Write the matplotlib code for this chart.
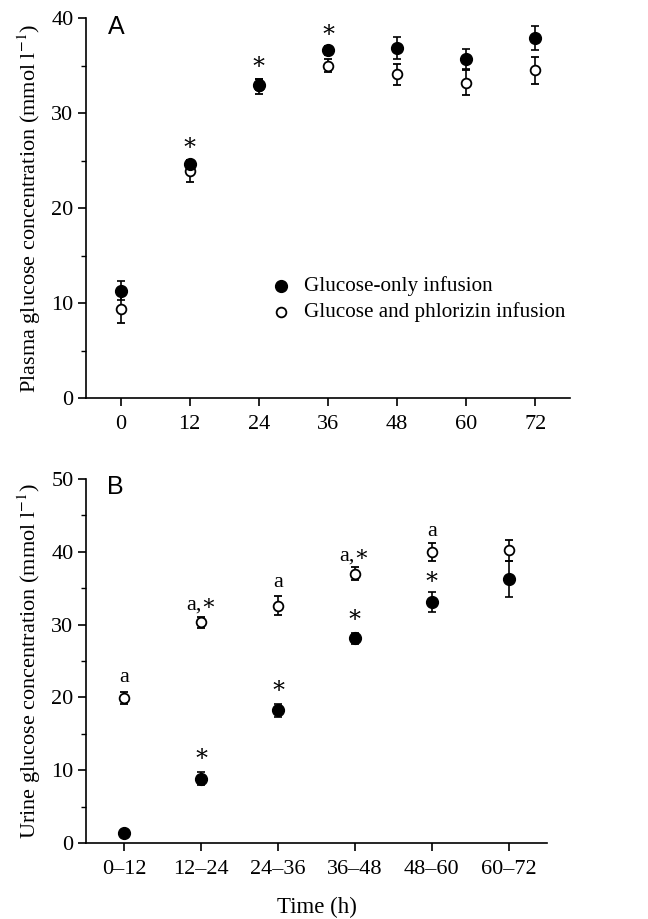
import matplotlib.pyplot as plt
from matplotlib.ticker import MultipleLocator

# panel A: plasma glucose
time_h = [0, 12, 24, 36, 48, 60, 72]
plasma_gluc = [11.3, 24.6, 33.0, 36.6, 36.8, 35.7, 37.9]
plasma_gluc_err = [1.0, 0.5, 0.6, 0.5, 1.15, 1.05, 1.3]
plasma_phlor = [9.4, 23.9, 32.8, 35.0, 34.1, 33.2, 34.5]
plasma_phlor_err = [1.5, 1.2, 0.8, 0.7, 1.1, 1.3, 1.4]
plasma_star_t = [12, 24, 36]
plasma_star_y = [26.8, 35.3, 38.7]

# panel B: urine glucose
periods = ['0–12', '12–24', '24–36', '36–48', '48–60', '60–72']
urine_gluc = [1.4, 8.8, 18.2, 28.1, 33.1, 36.3]
urine_gluc_err = [0.2, 0.9, 0.85, 0.8, 1.4, 2.5]
urine_phlor = [19.9, 30.3, 32.6, 37.0, 40.0, 40.2]
urine_phlor_err = [0.85, 0.7, 1.3, 0.85, 1.2, 1.4]
urine_open_lab = ['a', 'a,∗', 'a', 'a,∗', 'a', '']
urine_open_lab_y = [22.7, 32.7, 35.8, 39.4, 42.8, 0]
urine_fill_lab_y = [None, 12.2, 21.5, 31.2, 36.5, None]

plt.rcParams['font.family'] = ['Liberation Serif', 'DejaVu Serif']
plt.rcParams['mathtext.fontset'] = 'stix'

fig = plt.figure(figsize=(6.48, 9.19), dpi=100)
axA = fig.add_axes([0.1327, 0.5669, 0.747, 0.4135])
axB = fig.add_axes([0.1327, 0.0827, 0.7114, 0.3961])

fs = 16
star_kw = dict(ha='center', va='center', fontsize=17)
ebkw = dict(capsize=2.6, elinewidth=1.2, capthick=1.2, ecolor='black', linestyle='none')


def style(ax):
    for s in ['top', 'right']:
        ax.spines[s].set_visible(False)
    for s in ['left', 'bottom']:
        ax.spines[s].set_linewidth(1.2)
    ax.tick_params(which='major', direction='out', length=6, width=1.2, labelsize=fs)
    ax.tick_params(which='minor', direction='out', length=3.5, width=1.0)
    ax.tick_params(axis='x', pad=6)
    ax.tick_params(axis='y', pad=3)
    ax.yaxis.set_minor_locator(MultipleLocator(5))


# ---- A ----
axA.errorbar(time_h, plasma_phlor, yerr=plasma_phlor_err, marker='o', ms=7,
             mfc='white', mec='black', mew=1.3, zorder=2, **ebkw)
axA.errorbar(time_h, plasma_gluc, yerr=plasma_gluc_err, marker='o', ms=8.5,
             mfc='black', mec='black', zorder=3, **ebkw)
for t, y in zip(plasma_star_t, plasma_star_y):
    axA.text(t, y, '∗', **star_kw)
axA.set_xlim(-6, 78)
axA.set_ylim(0, 40)
axA.set_xticks(time_h)
axA.set_yticks([0, 10, 20, 30, 40])
style(axA)
axA.set_ylabel('Plasma glucose concentration (mmol l$^{-1}$)', fontsize=fs, labelpad=6)
axA.text(0.045, 1.008, 'A', transform=axA.transAxes, fontsize=18,
         family='Liberation Sans', va='top', ha='left')
axA.plot([27.8], [11.75], 'o', color='black', ms=8.5, clip_on=False)
axA.plot([27.8], [9.05], 'o', mfc='white', mec='black', mew=1.3, ms=7, clip_on=False)
axA.text(31.8, 11.75, 'Glucose-only infusion', fontsize=15.2, va='center')
axA.text(31.8, 9.05, 'Glucose and phlorizin infusion', fontsize=15.2, va='center')

# ---- B ----
xb = list(range(len(periods)))
axB.errorbar(xb, urine_phlor, yerr=urine_phlor_err, marker='o', ms=7,
             mfc='white', mec='black', mew=1.3, zorder=2, **ebkw)
axB.errorbar(xb, urine_gluc, yerr=urine_gluc_err, marker='o', ms=8.5,
             mfc='black', mec='black', zorder=3, **ebkw)
for i, (lab, y) in enumerate(zip(urine_open_lab, urine_open_lab_y)):
    if lab:
        axB.text(i, y, lab, ha='center', va='center', fontsize=fs)
for i, y in enumerate(urine_fill_lab_y):
    if y is not None:
        axB.text(i, y, '∗', **star_kw)
axB.set_xlim(-0.5, 5.5)
axB.set_ylim(0, 50)
axB.set_xticks(xb)
axB.set_xticklabels(periods)
axB.set_yticks([0, 10, 20, 30, 40, 50])
style(axB)
axB.set_ylabel('Urine glucose concentration (mmol l$^{-1}$)', fontsize=fs, labelpad=6)
axB.set_xlabel('Time (h)', fontsize=16.5, labelpad=13)
axB.text(0.046, 1.01, 'B', transform=axB.transAxes, fontsize=18,
         family='Liberation Sans', va='top', ha='left')

fig.savefig('out.png', dpi=100)
